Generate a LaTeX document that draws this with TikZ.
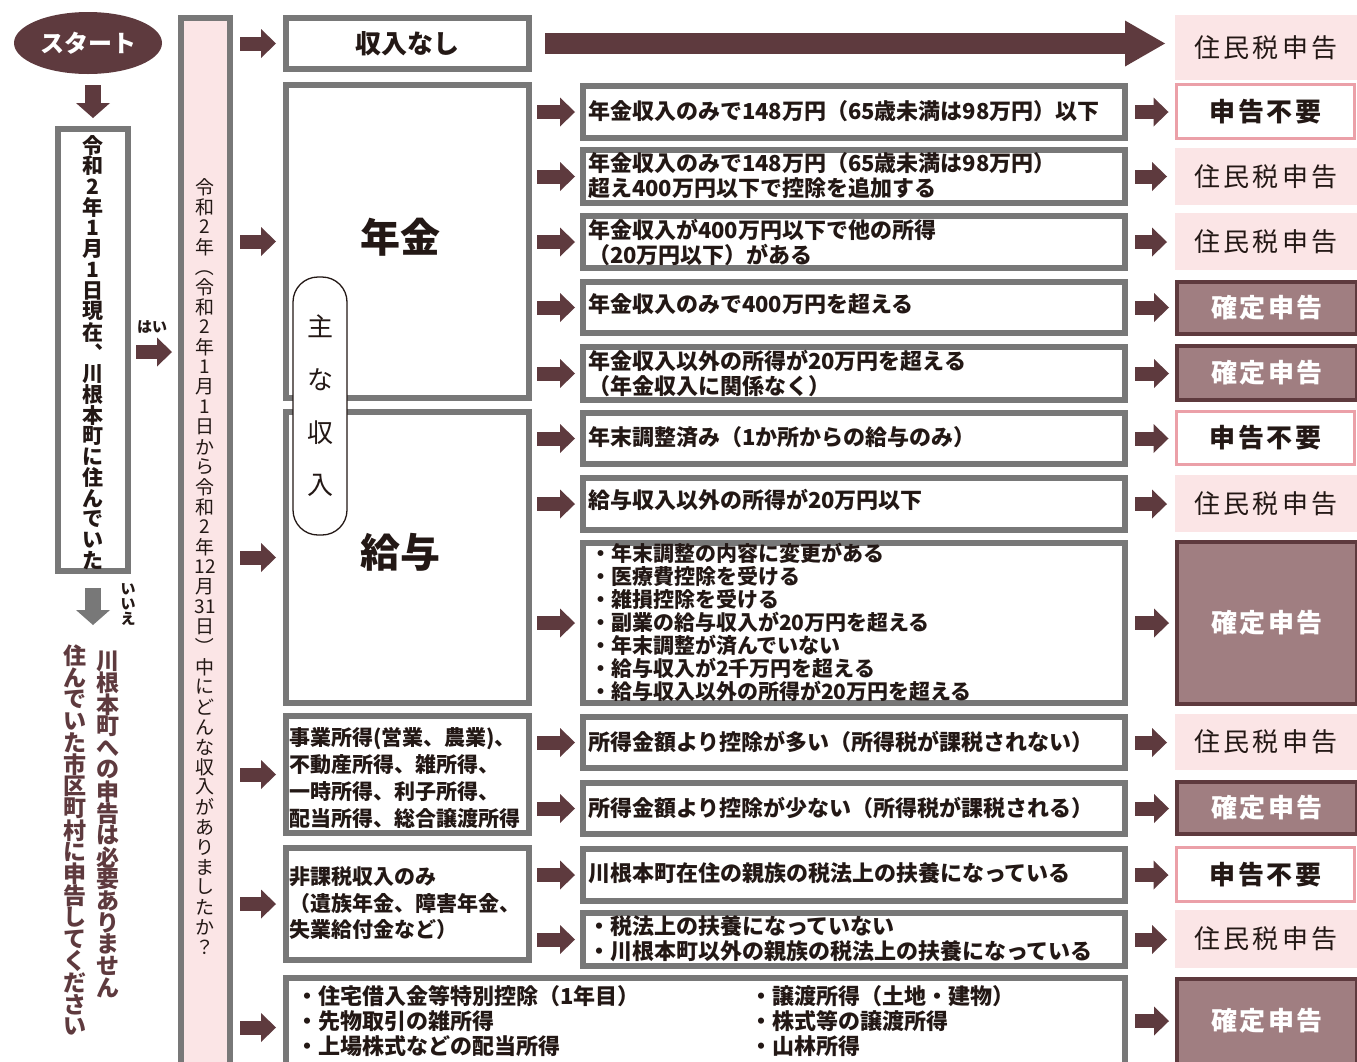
\documentclass[tikz,border=0pt]{standalone}
\usepackage{fontspec}
\usepackage{graphicx}
\setmainfont{Noto Sans CJK JP}
\usetikzlibrary{calc,arrows.meta,shapes.geometric}
\definecolor{maroon}{HTML}{5E3A3E}
\definecolor{pinkbg}{HTML}{FBE5E6}
\definecolor{pinkln}{HTML}{EBA0A8}
\definecolor{mauve}{HTML}{A07E81}
\definecolor{gline}{HTML}{787878}
\definecolor{txt}{HTML}{231815}
\newcommand\fsz[2]{\fontsize{#1pt}{#2pt}\selectfont}
\newcommand\vpl{\rotatebox[origin=c]{-90}{（}}
\newcommand\vpr{\rotatebox[origin=c]{-90}{）}}
\makeatletter
\newcommand\vstack[3]{\vbox{\offinterlineskip\fontsize{#2pt}{#2pt}\selectfont\@tfor\vs@c:=#3\do{\vbox to #1pt{\vss\hbox to #2pt{\hss\vs@c\hss}\vss}}}}
\makeatother
% box from outer coordinates: [lw]{style}{x1}{y1}{x2}{y2}{name}
\newcommand\bx[7][6]{\node[#2,minimum width={#5-#3-#1},minimum height={#6-#4-#1}] (#7) at ({(#3+#5)/2},{(#4+#6)/2}) {};}
\tikzset{
  gbox/.style={draw=gline, line width=6pt, fill=white},
  pbar/.style={draw=gline, line width=6pt, fill=pinkbg},
  rjumin/.style={fill=pinkbg},
  rfuyo/.style={draw=pinkln, line width=3pt, fill=white},
  rkaku/.style={draw=maroon, line width=4pt, fill=mauve},
  barr/.style={draw=maroon, line width=14pt, -{Triangle[length=15pt,width=29pt,line width=0pt]}},
  longarr/.style={draw=maroon, line width=21pt, -{Triangle[length=40pt,width=46pt,line width=0pt]}},
  downarr/.style={draw=maroon, line width=16pt, -{Triangle[length=15pt,width=34pt,line width=0pt]}},
  grayarr/.style={draw=gline, line width=16pt, -{Triangle[length=15pt,width=34pt,line width=0pt]}},
  ctext/.style={anchor=west, align=left, text=txt, font=\bfseries\fsz{22}{25}},
  btext/.style={anchor=west, align=left, text=txt, font=\bfseries\fsz{21}{23}},
  jtext/.style={text=txt, font=\fsz{26}{26}\addfontfeatures{LetterSpace=12}},
  ftext/.style={text=txt, font=\bfseries\fsz{26}{26}\addfontfeatures{LetterSpace=10}},
  ktext/.style={text=white, font=\bfseries\fsz{26}{26}\addfontfeatures{LetterSpace=10}},
}
\begin{document}
\begin{tikzpicture}[x=1pt,y=-1pt,every node/.style={inner sep=0pt,outer sep=0pt}]
\useasboundingbox (0,0) rectangle (1357,1061);
\fill[white] (0,0) rectangle (1357,1061);

% start
\node[ellipse, fill=maroon, minimum width=148, minimum height=62] (start) at (88,43) {};
\node[text=white, font=\bfseries\fsz{24}{24}] (startt) at (start.center) {スタート};

% question box
\bx{gbox}{55}{126}{131}{574}{q}
\node[text=txt, font=\bfseries] (qt) at ($(q.center)+(0,3)$) {\vstack{20.8}{21}{令和2年1月1日現在︑川根本町に住んでいた}};
\node[text=txt, font=\bfseries\fsz{15}{15}] (yes) at (152,327) {はい};
\node[text=txt, font=\bfseries] (nolab) at (128,604) {\vstack{15}{15}{いいえ}};
\node[anchor=north, text=maroon, font=\bfseries] (no1) at (108,650) {\vstack{21.8}{23}{川根本町への申告は必要ありません}};
\node[anchor=north, text=maroon, font=\bfseries] (no2) at (75,645) {\vstack{21.8}{23}{住んでいた市区町村に申告してください}};

% vertical bar
\bx{pbar}{178}{15}{233}{1080}{bar}
\node[anchor=north, text=txt] (qq) at (205,177) {\vstack{20}{19}{令和2年\vpl 令和2年1月1日から令和2年{12}月{31}日\vpr 中にどんな収入がありましたか？}};

% category boxes
\bx{gbox}{283}{15}{532}{72}{cNone}
\bx{gbox}{283}{82}{532}{401}{cPen}
\bx{gbox}{283}{409}{532}{706}{cSal}
\bx{gbox}{283}{713}{532}{836}{cBiz}
\bx{gbox}{283}{845}{532}{963}{cNon}
\bx{gbox}{283}{975}{1128}{1080}{cOth}
\node[text=txt, font=\bfseries\fsz{26}{26}] (tNone) at (cNone.center) {収入なし};
\node[text=txt, font=\bfseries\fsz{40}{40}] (tPen) at (400,237) {年金};
\node[text=txt, font=\bfseries\fsz{40}{40}] (tSal) at (400,552) {給与};
\node[ctext, font=\bfseries\fsz{21}{27}] (tBiz) at (289,777.5) {事業所得(営業、農業)、\\不動産所得、雑所得、\\一時所得、利子所得、\\配当所得、総合譲渡所得};
\node[ctext, font=\bfseries\fsz{21}{26.5}] (tNon) at (289,903.5) {非課税収入のみ\\（遺族年金、障害年金、\\失業給付金など）};
\node[ctext] (tOthL) at (296,1021) {・住宅借入金等特別控除（1年目）\\・先物取引の雑所得\\・上場株式などの配当所得};
\node[ctext] (tOthR) at (750,1021) {・譲渡所得（土地・建物）\\・株式等の譲渡所得\\・山林所得};

% main income label
\node[draw=txt, line width=1.3pt, fill=white, rounded corners=25pt, minimum width=54, minimum height=258] (main) at (320,406) {};
\node[text=txt] (maint) at (main.center) {\vstack{53}{26}{主な収入}};

% condition boxes
\bx{gbox}{580}{83}{1128}{141}{k1}
\bx{gbox}{580}{147}{1128}{206}{k2}
\bx{gbox}{580}{213}{1128}{271}{k3}
\bx{gbox}{580}{279}{1128}{336}{k4}
\bx{gbox}{580}{344}{1128}{403}{k5}
\bx{gbox}{580}{410}{1128}{467}{k6}
\bx{gbox}{580}{475}{1128}{533}{k7}
\bx{gbox}{580}{540}{1128}{706}{k8}
\bx{gbox}{580}{714}{1128}{771}{k9}
\bx{gbox}{580}{780}{1128}{837}{k10}
\bx{gbox}{580}{846}{1128}{904}{k11}
\bx{gbox}{580}{910}{1128}{969}{k12}

\node[ctext] (t1) at (588,111) {年金収入のみで148万円（65歳未満は98万円）以下};
\node[ctext] (t2) at (588,176) {年金収入のみで148万円（65歳未満は98万円）\\超え400万円以下で控除を追加する};
\node[ctext] (t3) at (588,242) {年金収入が400万円以下で他の所得\\（20万円以下）がある};
\node[ctext] (t4) at (588,304) {年金収入のみで400万円を超える};
\node[ctext] (t5) at (588,373) {年金収入以外の所得が20万円を超える\\（年金収入に関係なく）};
\node[ctext] (t6) at (588,437) {年末調整済み（1か所からの給与のみ）};
\node[ctext] (t7) at (588,500) {給与収入以外の所得が20万円以下};
\node[btext] (t8) at (590,622.5) {・年末調整の内容に変更がある\\・医療費控除を受ける\\・雑損控除を受ける\\・副業の給与収入が20万円を超える\\・年末調整が済んでいない\\・給与収入が2千万円を超える\\・給与収入以外の所得が20万円を超える};
\node[ctext] (t9) at (588,742) {所得金額より控除が多い（所得税が課税されない）};
\node[ctext] (t10) at (588,808) {所得金額より控除が少ない（所得税が課税される）};
\node[ctext] (t11) at (588,873) {川根本町在住の親族の税法上の扶養になっている};
\node[ctext] (t12) at (588,939) {・税法上の扶養になっていない\\・川根本町以外の親族の税法上の扶養になっている};

% results
\bx[0]{rjumin}{1175}{15}{1357}{80}{r0}
\bx[3]{rfuyo}{1175}{83}{1356}{140}{r1}
\bx[0]{rjumin}{1175}{148}{1357}{205}{r2}
\bx[0]{rjumin}{1175}{213}{1357}{270}{r3}
\bx[4]{rkaku}{1175}{280}{1359}{336}{r4}
\bx[4]{rkaku}{1175}{344}{1359}{402}{r5}
\bx[3]{rfuyo}{1175}{410}{1356}{466}{r6}
\bx[0]{rjumin}{1175}{475}{1357}{532}{r7}
\bx[4]{rkaku}{1175}{540}{1359}{706}{r8}
\bx[0]{rjumin}{1175}{714}{1357}{770}{r9}
\bx[4]{rkaku}{1175}{780}{1359}{836}{r10}
\bx[3]{rfuyo}{1175}{846}{1356}{903}{r11}
\bx[0]{rjumin}{1175}{910}{1357}{968}{r12}
\bx[4]{rkaku}{1175}{977}{1359}{1080}{r13}
\foreach \r in {r0,r2,r3,r7,r9,r12} \node[jtext] at (\r.center) {住民税申告};
\foreach \r in {r1,r6,r11} \node[ftext] at (\r.center) {申告不要};
\foreach \r in {r4,r5,r8,r10} \node[ktext] at (\r.center) {確定申告};
\node[ktext] (r13t) at (1267,1021) {確定申告};

% arrows
\draw[downarr] ($(start.south -| q.north)+(0,11)$) -- ($(q.north)+(0,-11)$);
\draw[barr] ($(q.east)+(8,2)$) -- ($(bar.west |- q.east)+(-9,2)$);
\coordinate (noend) at ($(q.south)+(0,54)$);
\draw[grayarr] ($(q.south)+(0,17)$) -- (noend);
\foreach \t in {cNone,cPen,cSal,cBiz,cNon,cOth}
  \draw[barr] ($(bar.east |- \t.west)+(10,0)$) -- ($(\t.west)+(-10,0)$);
\foreach \c/\k in {cPen/k1,cPen/k2,cPen/k3,cPen/k4,cPen/k5,cSal/k6,cSal/k7,cSal/k8,cBiz/k9,cBiz/k10,cNon/k11,cNon/k12}
  \draw[barr] ($(\c.east |- \k.west)+(8,0)$) -- ($(\k.west)+(-8,0)$);
\foreach \k/\r in {k1/r1,k2/r2,k3/r3,k4/r4,k5/r5,k6/r6,k7/r7,k8/r8,k9/r9,k10/r10,k11/r11,k12/r12}
  \draw[barr] ($(\k.east)+(10,0)$) -- ($(\r.west |- \k.east)+(-8,0)$);
\draw[barr] ($(cOth.east |- r13t)+(10,0)$) -- ($(r13.west |- r13t)+(-8,0)$);
\draw[longarr] ($(cNone.east)+(16,0)$) -- ($(r0.west |- cNone.east)+(-10,0)$);
\end{tikzpicture}
\end{document}
